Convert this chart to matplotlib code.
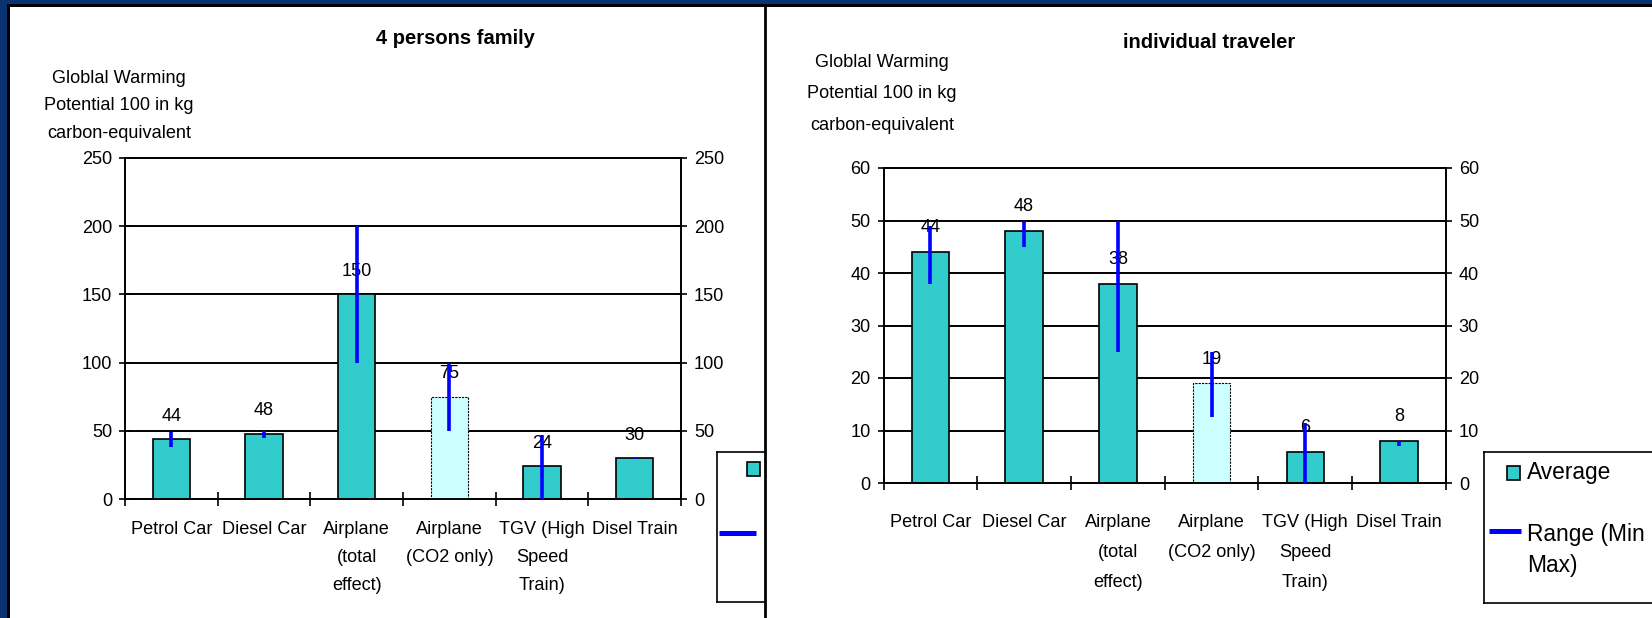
import numpy as np
import matplotlib
matplotlib.use("Agg")
import matplotlib.pyplot as plt
from matplotlib import font_manager
from matplotlib.patches import Rectangle

# --- data -------------------------------------------------------------
categories = ["Petrol Car", "Diesel Car", "Airplane\n(total\neffect)",
              "Airplane\n(CO2 only)", "TGV (High\nSpeed\nTrain)", "Disel Train"]

family_avg = [44, 48, 150, 75, 24, 30]
family_min = [38, 45, 100, 50, 0, 29]
family_max = [49, 50, 200, 100, 47, 31]
family_ticks = [0, 50, 100, 150, 200, 250]

single_avg = [44, 48, 38, 19, 6, 8]
single_min = [38, 45, 25, 12.5, 0, 7]
single_max = [49, 50, 50, 25, 11.5, 8]
single_ticks = [0, 10, 20, 30, 40, 50, 60]

legend_labels = ["Average", "Range (Min\nMax)"]
ylabel_text = "Globlal Warming\nPotential 100 in kg\ncarbon-equivalent"

# --- style ------------------------------------------------------------
NAVY = "#0a3270"
TEAL = "#33cccc"
PALE = "#ccffff"
BLUE = "#0000ff"

try:
    font_manager.findfont(font_manager.FontProperties(family="Liberation Sans Narrow"),
                          fallback_to_default=False)
    FAMILY, K = "Liberation Sans Narrow", 1.0
except ValueError:
    FAMILY, K = "Liberation Sans", 0.84

plt.rcParams["font.family"] = [FAMILY, "DejaVu Sans"]
FS = 15.5 * K
FS_LEG = 19.5 * K

W, H = 1652, 618


def px_rect(x0, y0, x1, y1):
    """figure rect from pixel box (origin top-left)"""
    return [x0 / W, 1 - y1 / H, (x1 - x0) / W, (y1 - y0) / H]


fig = plt.figure(figsize=(W / 100, H / 100), dpi=100, facecolor=NAVY)

# frame: black inner shadow + white sheet
bg = fig.add_axes([0, 0, 1, 1], zorder=-10)
bg.set_xlim(0, W)
bg.set_ylim(H, 0)
bg.set_axis_off()
bg.add_patch(Rectangle((7, 4), W, H, facecolor="black", lw=0))
bg.add_patch(Rectangle((10, 7), W, H, facecolor="white", lw=0))


def bar_chart(ax, avg, lo, hi, ticks, label_off, xpad, xls):
    x = np.arange(len(avg))
    bars = ax.bar(x, avg, width=0.4, color=TEAL, edgecolor="black", lw=1.2, zorder=2)
    # the CO2-only airplane bar is drawn pale with a dotted outline
    bars[3].set_facecolor(PALE)
    bars[3].set_linestyle((0, (2, 1)))
    bars[3].set_linewidth(0.8)
    for xi, v in zip(x, avg):
        ax.annotate(f"{v}", (xi, v), xytext=(0, label_off), textcoords="offset points",
                    ha="center", va="center", fontsize=FS, zorder=3)
    ax.vlines(x, lo, hi, color=BLUE, lw=2.6, zorder=4)

    ax.set_xlim(-0.5, len(avg) - 0.5)
    ax.set_ylim(ticks[0], ticks[-1])
    ax.set_yticks(ticks)
    ax.yaxis.grid(True, color="black", lw=1.4)
    ax.set_axisbelow(True)
    ax.set_facecolor("none")
    for s in ax.spines.values():
        s.set_linewidth(1.4)
    ax.tick_params(axis="y", left=True, right=True, labelleft=True, labelright=True,
                   direction="inout", length=8.5, width=1.2, pad=5, labelsize=FS)

    ax.set_xticks(np.arange(-0.5, len(avg)))
    ax.set_xticklabels([])
    ax.set_xticks(x, minor=True)
    ax.set_xticklabels(categories, minor=True, fontsize=FS, linespacing=xls)
    ax.tick_params(axis="x", which="major", direction="inout", length=10, width=1.2)
    ax.tick_params(axis="x", which="minor", length=0, pad=xpad)


def draw_legend(box, sq, line_x, line_y, text_x, text_y, z):
    x0, y0, x1, y1 = box
    lax = fig.add_axes(px_rect(x0, y0, x1, y1), zorder=z)
    lax.set_xlim(0, x1 - x0)
    lax.set_ylim(y1 - y0, 0)
    lax.set_xticks([])
    lax.set_yticks([])
    lax.set_facecolor("white")
    for s in lax.spines.values():
        s.set_linewidth(1.2)
    lax.add_patch(Rectangle((sq[0], sq[1]), 13, 14, facecolor=TEAL, edgecolor="black", lw=1.2))
    lax.plot(line_x, [line_y, line_y], color=BLUE, lw=3.6, solid_capstyle="butt")
    for t, ty in zip(legend_labels, text_y):
        lax.text(text_x, ty, t, fontsize=FS_LEG, ha="left", va="center", linespacing=1.45)


# --- left: 4 persons family ------------------------------------------
axL = fig.add_axes(px_rect(125, 158, 681, 499), zorder=1)
bar_chart(axL, family_avg, family_min, family_max, family_ticks, 16.5, 16, 1.85)
fig.text(455 / W, 1 - 38 / H, "4 persons family", ha="center", va="center",
         fontsize=14.5, fontweight="bold", family=["Liberation Sans", "DejaVu Sans"])
fig.text(119 / W, 1 - 106 / H, ylabel_text, ha="center", va="center",
         fontsize=FS, linespacing=1.82)
draw_legend((717, 452, 800, 602), (30, 10), [2, 39], 81, 50, [17, 98], z=3)

# --- right panel sheet covers the overflow of the left one --------------
rp = fig.add_axes(px_rect(765, 7, W + 5, H + 5), zorder=5)
rp.set_facecolor("white")
rp.set_xticks([])
rp.set_yticks([])
for s in ("top", "right", "bottom"):
    rp.spines[s].set_visible(False)
rp.spines["left"].set_linewidth(2)

# --- right: individual traveler ----------------------------------------
axR = fig.add_axes(px_rect(883.5, 168, 1446, 483), zorder=6)
bar_chart(axR, single_avg, single_min, single_max, single_ticks, 17.3, 22, 2.0)
fig.text(1209 / W, 1 - 42 / H, "individual traveler", ha="center", va="center",
         fontsize=14.5, fontweight="bold", family=["Liberation Sans", "DejaVu Sans"], zorder=7)
fig.text(882 / W, 1 - 94 / H, ylabel_text, ha="center", va="center",
         fontsize=FS, linespacing=2.1, zorder=7)
draw_legend((1484, 452, 1720, 603), (23, 14), [5, 37], 79, 43, [20, 98], z=8)

fig.savefig("out.png", dpi=100, facecolor=NAVY)
